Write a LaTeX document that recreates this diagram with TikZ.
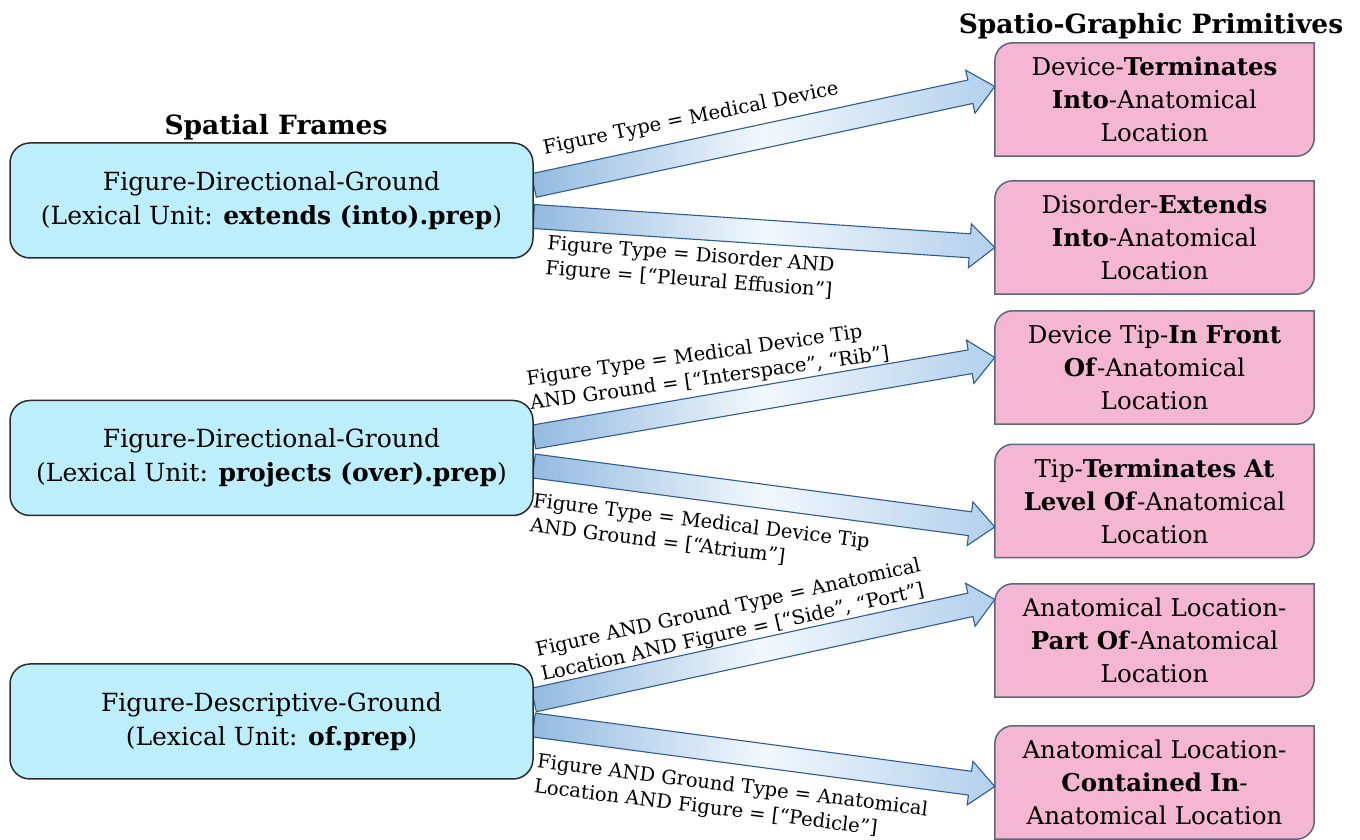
\documentclass[tikz,border=0pt]{standalone}
\usepackage{fontspec}
\setmainfont{DejaVu Serif}
\usetikzlibrary{calc,backgrounds}
\definecolor{frameFill}{HTML}{BDEEFC}
\definecolor{frameLine}{HTML}{2B2B2B}
\definecolor{primFill}{HTML}{F5B6D3}
\definecolor{primLine}{HTML}{5B6878}
\definecolor{arrL}{HTML}{93BAE0}
\definecolor{arrM}{HTML}{F2F8FD}
\definecolor{arrR}{HTML}{B3D0EC}
\definecolor{arrLine}{HTML}{2E5C8E}
\tikzset{
 framebox/.style={draw=frameLine, line width=1.5pt, fill=frameFill, rounded corners=20pt,
   minimum width=523pt, minimum height=115pt, align=center,
   font=\fontsize{25}{34}\selectfont, inner sep=0pt},
 primbox/.style={minimum width=319pt, minimum height=113pt, align=center, text width=310pt,
   font=\fontsize{24.5}{33}\selectfont, inner sep=0pt},
 primshape/.style={draw=primLine, line width=1.5pt, fill=primFill},
 edgelabel/.style={align=left, font=\fontsize{19.5}{25}\selectfont, inner sep=0pt},
 titletext/.style={font=\fontsize{26.5}{30}\selectfont\bfseries, inner sep=0pt},
 fatarrow/.style={draw=arrLine, line width=1.1pt, line join=miter,
   left color=arrL, right color=arrR, middle color=arrM},
}
\newcommand\fatarr[2]{%
  \coordinate (hb) at ($(#2)!25pt!(#1)$);
  \draw[fatarrow] ($(#1)!12pt!90:(#2)$) -- ($(hb)!12pt!90:(#2)$) -- ($(hb)!22pt!90:(#2)$)
    -- (#2) -- ($(hb)!22pt!-90:(#2)$) -- ($(hb)!12pt!-90:(#2)$) -- ($(#1)!12pt!-90:(#2)$) -- cycle;}
\newcommand\primshape[1]{%
  \draw[primshape] (#1.south west) -- ($(#1.north west)+(0,-18)$) arc[start angle=180,end angle=90,radius=18pt]
    -- (#1.north east) -- ($(#1.south east)+(0,18)$) arc[start angle=0,end angle=-90,radius=18pt] -- cycle;}
\begin{document}
\begin{tikzpicture}[x=1pt,y=1pt]
\useasboundingbox (0,0) rectangle (1360,840);
% titles
\node[titletext] (t1) at (276,713) {Spatial Frames};
\node[titletext] (t2) at (1151,814) {Spatio-Graphic Primitives};
% spatial frames
\node[framebox] (f1) at (271.5,639.5) {Figure-Directional-Ground\\(Lexical Unit: \textbf{extends (into).prep})};
\node[framebox] (f2) at (271.5,382) {Figure-Directional-Ground\\(Lexical Unit: \textbf{projects (over).prep})};
\node[framebox] (f3) at (271.5,118.5) {Figure-Descriptive-Ground\\(Lexical Unit: \textbf{of.prep})};
% primitives
\node[primbox] (p1) at (1154.5,740.5) {Device-\textbf{Terminates}\\\textbf{Into}-Anatomical\\Location};
\node[primbox] (p2) at (1154.5,602.5) {Disorder-\textbf{Extends}\\\textbf{Into}-Anatomical\\Location};
\node[primbox] (p3) at (1154.5,472.5) {Device Tip-\textbf{In Front}\\\textbf{Of}-Anatomical\\Location};
\node[primbox] (p4) at (1154.5,339) {Tip-\textbf{Terminates At}\\\textbf{Level Of}-Anatomical\\Location};
\node[primbox] (p5) at (1154.5,199.5) {Anatomical Location-\\\textbf{Part Of}-Anatomical\\Location};
\node[primbox] (p6) at (1154.5,57.5) {Anatomical Location-\\\textbf{Contained In}-\\Anatomical Location};
% arrow end points
\coordinate (s1) at ($(f1.east)+(0,15)$);   \coordinate (e1) at ($(p1.west)+(0,13)$);
\coordinate (s2) at ($(f1.east)+(0,-16)$);  \coordinate (e2) at ($(p2.west)+(0,-10)$);
\coordinate (s3) at ($(f2.east)+(0,21)$);   \coordinate (e3) at ($(p3.west)+(0,10)$);
\coordinate (s4) at ($(f2.east)+(0,-8)$);   \coordinate (e4) at ($(p4.west)+(0,-26)$);
\coordinate (s5) at ($(f3.east)+(0,21.5)$); \coordinate (e5) at ($(p5.west)+(0,41)$);
\coordinate (s6) at ($(f3.east)+(0,-3.5)$); \coordinate (e6) at ($(p6.west)+(0,-4)$);
\begin{pgfonlayer}{background}
\primshape{p1}\primshape{p2}\primshape{p3}\primshape{p4}\primshape{p5}\primshape{p6}
\fatarr{s1}{e1}\fatarr{s2}{e2}\fatarr{s3}{e3}\fatarr{s4}{e4}\fatarr{s5}{e5}\fatarr{s6}{e6}
\end{pgfonlayer}
% labels
\node[edgelabel, rotate=11.5] (l1) at (691,721) {Figure Type = Medical Device};
\node[edgelabel, rotate=-4.5] (l2) at (690,572) {Figure Type = Disorder AND\\Figure = [“Pleural Effusion”]};
\node[edgelabel, rotate=8] (l3) at (708,473) {Figure Type = Medical Device Tip\\AND Ground = [“Interspace”, “Rib”]};
\node[edgelabel, rotate=-7] (l4) at (700,306) {Figure Type = Medical Device Tip\\AND Ground = [“Atrium”]};
\node[edgelabel, rotate=12.5] (l5) at (731,219) {Figure AND Ground Type = Anatomical\\Location AND Figure = [“Side”, “Port”]};
\node[edgelabel, rotate=-7] (l6) at (731,41) {Figure AND Ground Type = Anatomical\\Location AND Figure = [“Pedicle”]};
\end{tikzpicture}
\end{document}
